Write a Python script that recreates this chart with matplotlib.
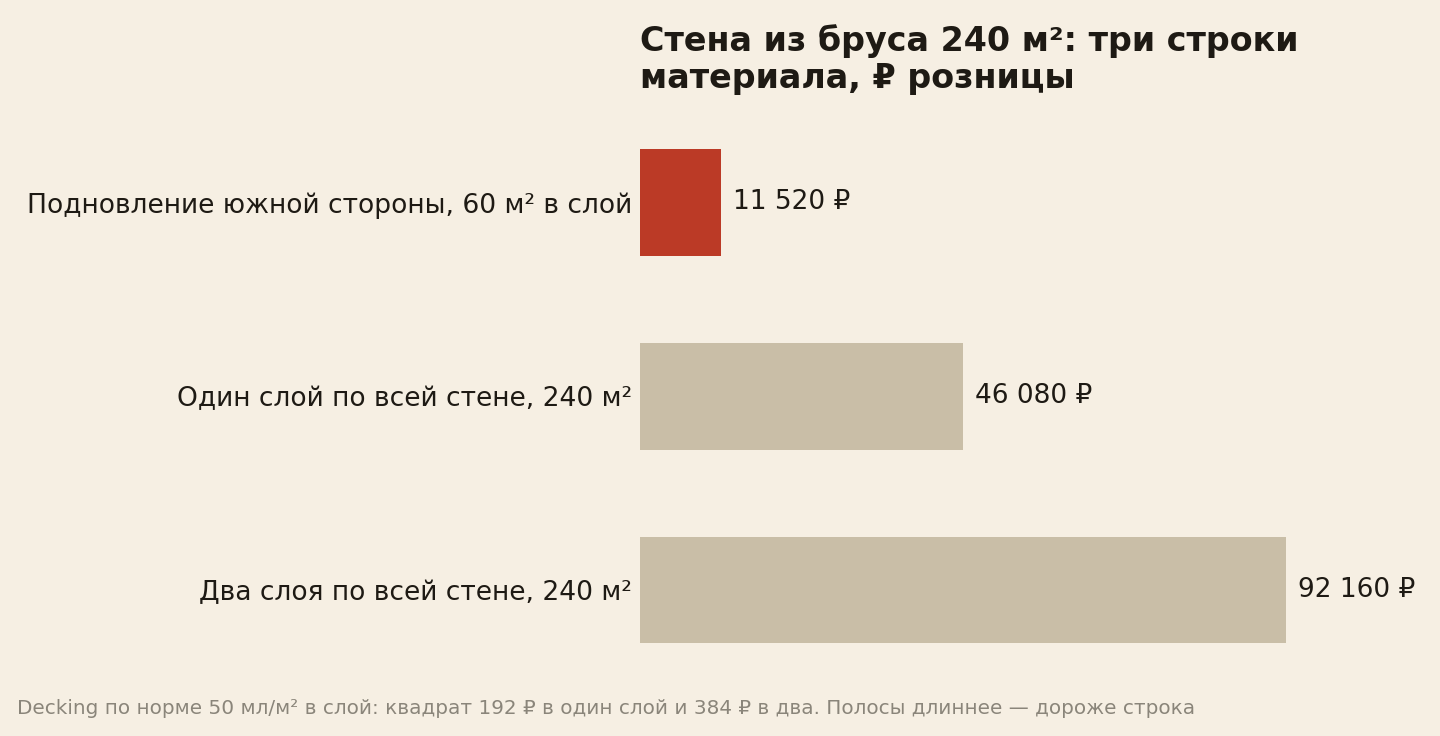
import matplotlib
matplotlib.use("Agg")
import matplotlib.pyplot as plt

# data
categories = [
    "Подновление южной стороны, 60 м² в слой",
    "Один слой по всей стене, 240 м²",
    "Два слоя по всей стене, 240 м²",
]
values = [11520, 46080, 92160]
value_labels = ["11 520 ₽", "46 080 ₽", "92 160 ₽"]
highlight = [True, False, False]

title = "Стена из бруса 240 м²: три строки\nматериала, ₽ розницы"
note = ("Decking по норме 50 мл/м² в слой: квадрат 192 ₽ в один слой и 384 ₽ в два. "
        "Полосы длиннее — дороже строка")

BG = "#f6efe3"
RED = "#bb3a26"
GREY = "#c9bea7"
INK = "#1e1a14"

plt.rcParams["font.family"] = ["DejaVu Sans"]

fig = plt.figure(figsize=(14.4, 7.36), dpi=100, facecolor=BG)
W, H = 1440, 736
ax = fig.add_axes([640 / W, 1 - 687 / H, 646 / W, (687 - 105.5) / H])
ax.set_facecolor(BG)

ypos = list(range(len(values)))
colors = [RED if h else GREY for h in highlight]
ax.barh(ypos, values, height=0.55, color=colors)
ax.set_xlim(0, max(values))
ax.set_ylim(len(values) - 0.5, -0.5)

for y, v, lab in zip(ypos, values, value_labels):
    ax.text(v + 1700, y, lab, va="center", ha="left", fontsize=19, color=INK, clip_on=False)

ax.set_yticks(ypos)
ax.set_yticklabels(categories, fontsize=19.1, color=INK)
ax.tick_params(axis="y", length=0, pad=5.5)
ax.set_xticks([])
for s in ax.spines.values():
    s.set_visible(False)

fig.text(640 / W, 1 - 24 / H, title, fontsize=24, fontweight="bold", color=INK,
         ha="left", va="top", linespacing=1.15)
fig.text(17 / W, 1 - 708 / H, note, fontsize=14.4, color="#8a857a", ha="left", va="center")

fig.savefig("out.png", dpi=100, facecolor=BG)
